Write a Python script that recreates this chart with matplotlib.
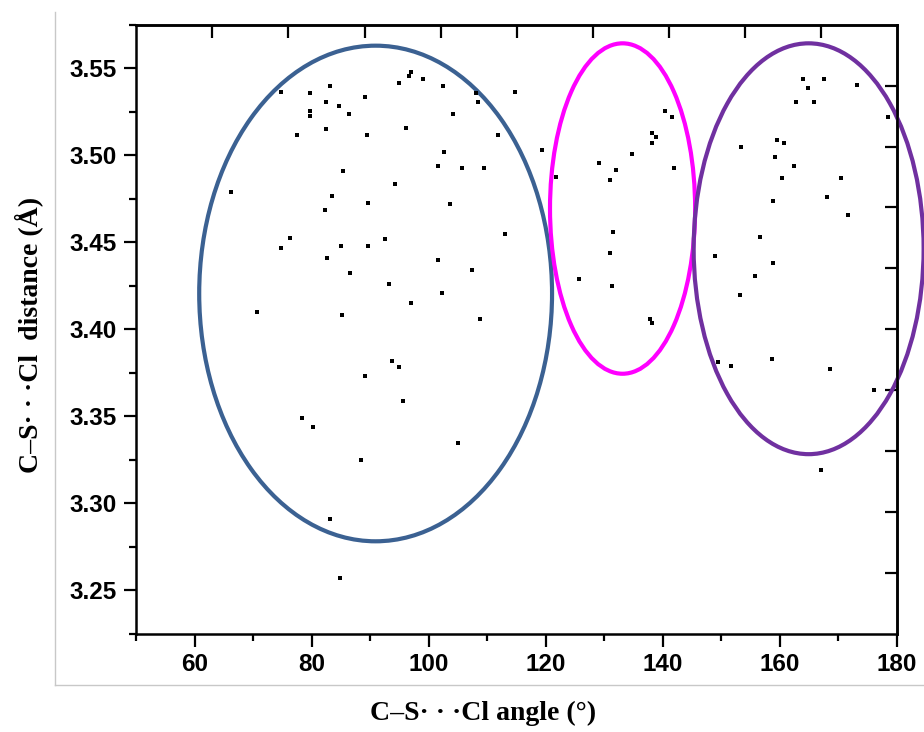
import matplotlib
matplotlib.use("Agg")
import matplotlib.pyplot as plt
from matplotlib.patches import Ellipse
from matplotlib.lines import Line2D
from matplotlib.ticker import MultipleLocator

# ---- data (C–S···Cl angle in degrees, C–S···Cl distance in Å) ----
angle = [74.74, 79.69, 83.03, 82.48, 79.64, 79.64, 77.52, 82.48, 66.19, 83.40,
         82.26, 76.32, 74.68, 82.65, 70.68, 84.65, 86.36, 89.09, 89.38, 94.96,
         96.56, 96.91, 99.06, 102.43, 108.07, 108.41, 114.79, 104.19, 96.05, 111.83,
         102.55, 101.62, 105.73, 109.38, 85.33, 94.22, 89.66, 103.68, 112.97, 84.94,
         89.56, 92.56, 101.57, 107.33, 86.58, 93.25, 102.31, 97.01, 85.16, 108.75,
         119.40, 121.69, 140.43, 141.52, 138.15, 138.84, 138.21, 134.74, 129.09, 132.00,
         130.92, 141.86, 131.44, 130.92, 125.73, 131.26, 137.76, 138.15, 163.91, 167.61,
         164.77, 162.77, 165.85, 173.20, 178.50, 153.32, 159.57, 160.67, 159.13, 162.38,
         160.43, 170.51, 158.89, 168.02, 171.71, 156.67, 148.87, 158.79, 155.76, 153.15,
         78.32, 80.21, 83.16, 93.71, 94.85, 89.09, 95.59, 104.99, 88.36, 84.82,
         149.44, 151.71, 158.62, 168.58, 176.10, 167.09]
distance = [3.5365, 3.5356, 3.5396, 3.5306, 3.5257, 3.5223, 3.5119, 3.5150, 3.4788, 3.4768,
            3.4688, 3.4527, 3.4470, 3.4409, 3.4101, 3.5285, 3.5236, 3.5337, 3.5119, 3.5415,
            3.5456, 3.5477, 3.5437, 3.5396, 3.5358, 3.5306, 3.5365, 3.5236, 3.5157, 3.5119,
            3.5018, 3.4937, 3.4927, 3.4927, 3.4908, 3.4837, 3.4728, 3.4719, 3.4548, 3.4480,
            3.4480, 3.4520, 3.4399, 3.4340, 3.4321, 3.4260, 3.4210, 3.4151, 3.4080, 3.4059,
            3.5028, 3.4877, 3.5256, 3.5218, 3.5128, 3.5107, 3.5069, 3.5008, 3.4958, 3.4918,
            3.4859, 3.4927, 3.4558, 3.4439, 3.4290, 3.4250, 3.4060, 3.4039, 3.5437, 3.5437,
            3.5387, 3.5306, 3.5306, 3.5406, 3.5218, 3.5048, 3.5088, 3.5069, 3.4989, 3.4937,
            3.4868, 3.4868, 3.4738, 3.4759, 3.4658, 3.4530, 3.4420, 3.4380, 3.4309, 3.4200,
            3.3490, 3.3440, 3.2912, 3.3821, 3.3781, 3.3732, 3.3590, 3.3350, 3.3251, 3.2572,
            3.3812, 3.3791, 3.3829, 3.3772, 3.3651, 3.3190]

x_ticks = [60, 80, 100, 120, 140, 160, 180]
y_ticks = [3.25, 3.30, 3.35, 3.40, 3.45, 3.50, 3.55]
x_label = "C–S\u00b7 \u00b7 \u00b7Cl angle (°)"
y_label = "C–S\u00b7 \u00b7 \u00b7Cl  distance (Å)"

# cluster ellipses: (center angle, center distance, width, height, colour)
cluster_cx = [90.9, 133.1, 164.9]
cluster_cy = [3.4206, 3.4694, 3.4463]
cluster_w = [60.3, 24.8, 39.3]
cluster_h = [0.2847, 0.1898, 0.2360]
cluster_col = ["#3B6192", "#FF00FF", "#7030A0"]

W, H = 924, 732
fig = plt.figure(figsize=(W / 100, H / 100), dpi=100)
ax = fig.add_axes([136.3 / W, 1 - 634 / H, (897 - 136.3) / W, (634 - 24.7) / H])

ax.scatter(angle, distance, marker="s", s=9, color="black", linewidths=0, zorder=3)

for cx, cy, w, h, c in zip(cluster_cx, cluster_cy, cluster_w, cluster_h, cluster_col):
    ax.add_patch(Ellipse((cx, cy), w, h, fill=False, edgecolor=c, lw=3.0,
                         clip_on=False, zorder=2))

ax.set_xlim(50, 180)
ax.set_ylim(3.225, 3.575)
ax.set_xticks(x_ticks)
ax.set_yticks(y_ticks)
ax.set_yticklabels([f"{v:.2f}" for v in y_ticks])
ax.xaxis.set_minor_locator(MultipleLocator(10))
ax.yaxis.set_minor_locator(MultipleLocator(0.025))

for s in ax.spines.values():
    s.set_linewidth(1.8)

tick_font = dict(family="Liberation Sans", weight="bold", size=17.5)
ax.tick_params(which="major", direction="out", length=9, width=1.6, pad=5,
               top=False, right=False)
ax.tick_params(which="minor", direction="out", length=5, width=1.6,
               top=False, right=False)
for lab in ax.get_xticklabels() + ax.get_yticklabels():
    lab.set_fontproperties(matplotlib.font_manager.FontProperties(**tick_font))

# unlabeled inward ticks on top and right frame
secx = ax.secondary_xaxis("top", functions=(lambda x: (x - 50) / 13.0,
                                            lambda t: t * 13.0 + 50))
secx.set_xticks(range(1, 10))
secx.tick_params(direction="in", length=9, width=1.6, labeltop=False)
secx.spines["top"].set_linewidth(1.8)
secy = ax.secondary_yaxis("right", functions=(lambda y: (y - 3.225) / 0.035,
                                              lambda t: t * 0.035 + 3.225))
secy.set_yticks(range(1, 10))
secy.tick_params(direction="in", length=9, width=1.6, labelright=False)
secy.spines["right"].set_linewidth(1.8)

label_font = dict(family="Liberation Serif", weight="bold", size=20)
fig.text(483 / W, 1 - 713 / H, x_label, ha="center", va="center", **label_font)
fig.text(29 / W, 1 - 335 / H, y_label, ha="center", va="center", rotation=90,
         **label_font)

# light grey frame of the original picture
fig.add_artist(Line2D([55 / W, 55 / W], [1 - 12 / H, 1 - 685 / H],
                      color="#c8c8c8", lw=1.0))
fig.add_artist(Line2D([55 / W, 1.0], [1 - 685 / H, 1 - 685 / H],
                      color="#c8c8c8", lw=1.0))

fig.savefig("out.png", dpi=100)
